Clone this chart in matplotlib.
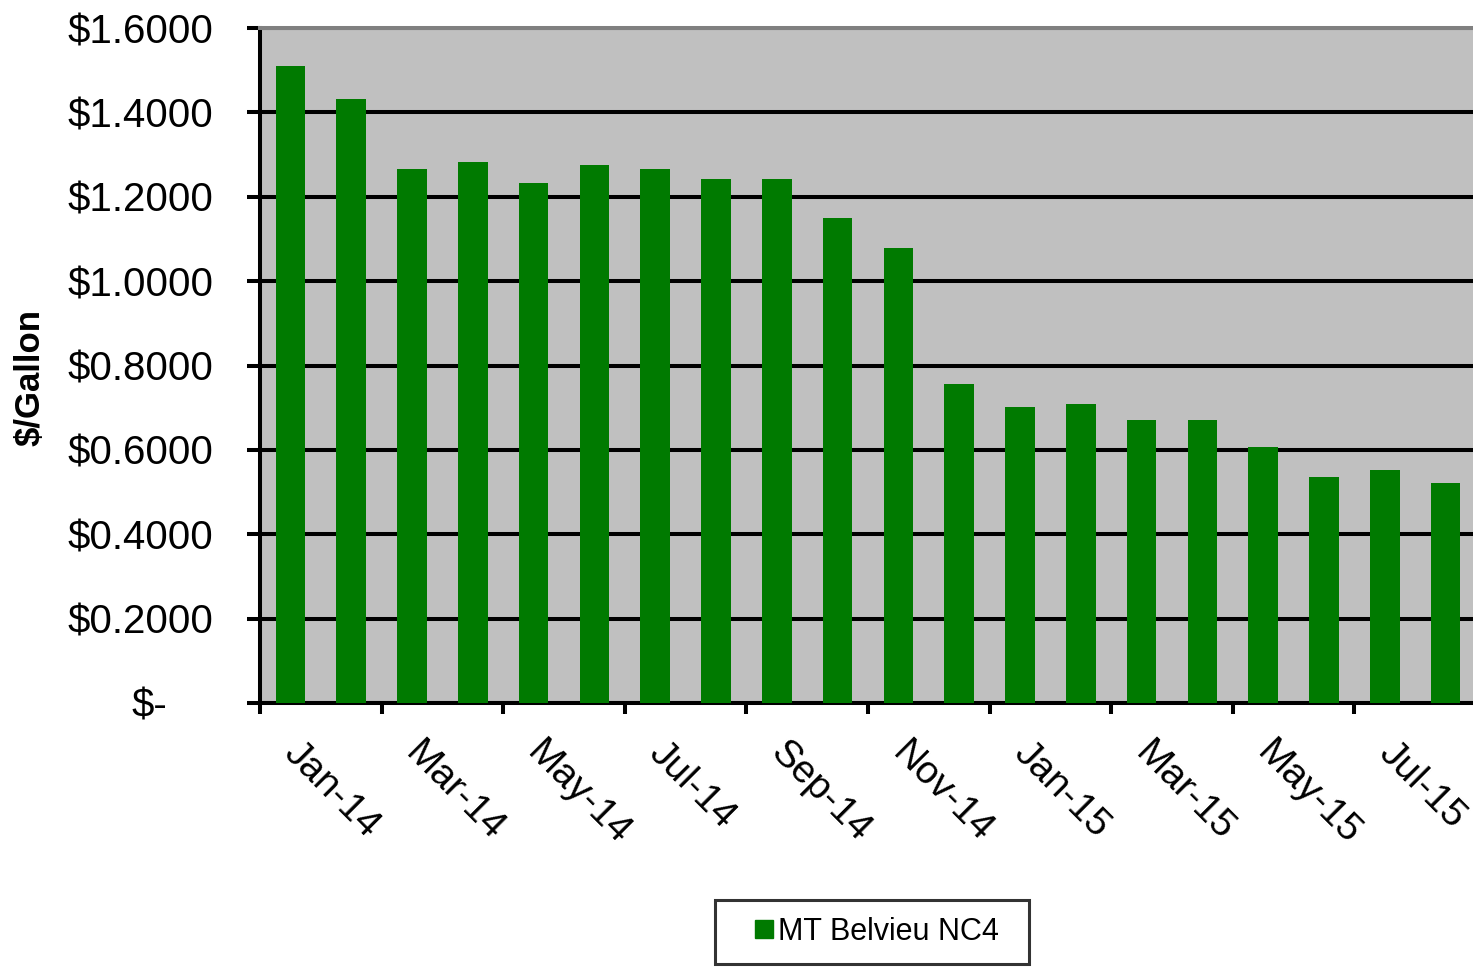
import matplotlib
matplotlib.use("Agg")
import matplotlib.pyplot as plt
import matplotlib.transforms as mtransforms
from matplotlib.lines import Line2D

# data
months = ['Jan-14', 'Feb-14', 'Mar-14', 'Apr-14', 'May-14', 'Jun-14', 'Jul-14',
          'Aug-14', 'Sep-14', 'Oct-14', 'Nov-14', 'Dec-14', 'Jan-15', 'Feb-15',
          'Mar-15', 'Apr-15', 'May-15', 'Jun-15', 'Jul-15', 'Aug-15']
price = [1.509, 1.431, 1.265, 1.282, 1.232, 1.275, 1.265, 1.242, 1.242, 1.149,
         1.078, 0.756, 0.701, 0.709, 0.671, 0.671, 0.607, 0.535, 0.552, 0.521]
y_ticks = [0.0, 0.2, 0.4, 0.6, 0.8, 1.0, 1.2, 1.4, 1.6]
y_labels = ['$-', '$0.2000', '$0.4000', '$0.6000', '$0.8000',
            '$1.0000', '$1.2000', '$1.4000', '$1.6000']
series_name = 'MT Belvieu NC4'

GREEN = '#007A00'
plt.rcParams['font.family'] = ['Liberation Sans', 'DejaVu Sans']

fig = plt.figure(figsize=(14.73, 9.68), dpi=100)
W, H = 1473, 968
# axes in pixel terms: left 260, right ~1476 (cut off), top 28, bottom 703
ax = fig.add_axes([260 / W, 1 - 703 / H, 1216 / W, 675 / H])
ax.set_facecolor('#C0C0C0')

x = list(range(len(months)))
ax.bar(x, price, width=0.49, color=GREEN, zorder=3)

ax.set_xlim(-0.5, len(months) - 0.5)
ax.set_ylim(0, 1.6)

# gridlines
ax.set_yticks(y_ticks)
ax.set_yticklabels(y_labels)
ax.yaxis.grid(True, color='black', linewidth=2.9)
ax.set_axisbelow(True)

for s in ['left', 'bottom']:
    ax.spines[s].set_color('black')
    ax.spines[s].set_linewidth(2.9)
for s in ['top', 'right']:
    ax.spines[s].set_color('#808080')
    ax.spines[s].set_linewidth(2.9)

ax.tick_params(axis='y', direction='out', length=9.5, width=2.9, pad=24,
               labelsize=29, colors='black')

# x: tick marks every two months at category boundaries, labels on categories
ax.set_xticks([i - 0.5 for i in range(0, len(months), 2)])
ax.set_xticklabels([])
ax.set_xticks(x[::2], minor=True)
ax.set_xticklabels(months[::2], minor=True, rotation=-45, ha='left', va='top',
                   rotation_mode='anchor', fontsize=28)
ax.tick_params(axis='x', which='major', direction='out', length=8, width=2.9)
ax.tick_params(axis='x', which='minor', length=0, pad=23)
shift = mtransforms.ScaledTranslation(0.12, 0, fig.dpi_scale_trans)
for lbl in ax.get_xticklabels(minor=True):
    lbl.set_transform(lbl.get_transform() + shift)

# accounting-style zero label sits further left
zero_lbl = ax.get_yticklabels()[0]
zero_lbl.set_transform(zero_lbl.get_transform() +
                       mtransforms.ScaledTranslation(-0.46, 0, fig.dpi_scale_trans))

fig.text(30 / W, 1 - 378 / H, '$/Gallon', rotation=90, fontsize=25,
         fontweight='bold', ha='center', va='center')

handle = Line2D([], [], marker='s', linestyle='none', color=GREEN, markersize=13)
leg = fig.legend([handle], [series_name], loc='center',
                 bbox_to_anchor=(715 / W, 1 - 966 / H, 314 / W, 68 / H),
                 mode='expand', borderaxespad=0, fontsize=22,
                 frameon=True, fancybox=False, borderpad=0.55,
                 handlelength=2.1, handletextpad=-0.6)
leg.get_frame().set_edgecolor('black')
leg.get_frame().set_linewidth(2.2)

fig.savefig('out.png', dpi=100)
